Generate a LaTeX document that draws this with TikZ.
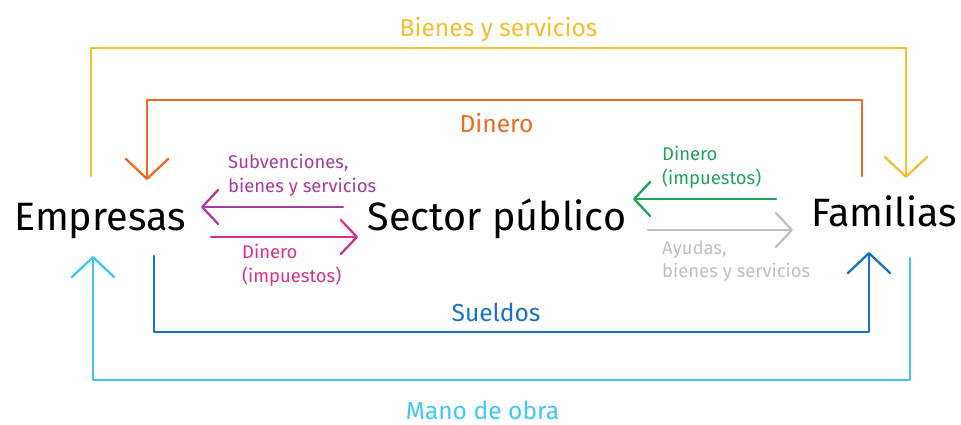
\documentclass[tikz,border=0pt]{standalone}
\usepackage{fontspec}
\setmainfont{Fira Sans}
\usepackage{tikz}
\usetikzlibrary{arrows.meta}
\definecolor{bienescol}{HTML}{F6BE2A}
\definecolor{dinerocol}{HTML}{EE6A1F}
\definecolor{sueldoscol}{HTML}{1971C2}
\definecolor{obracol}{HTML}{40C8F4}
\definecolor{subvcol}{HTML}{A93A9E}
\definecolor{impcol}{HTML}{DB2F8C}
\definecolor{impfamcol}{HTML}{1DA35A}
\definecolor{ayudacol}{HTML}{C0C0C0}
\tikzset{
  flow/.style={line width=1.3pt,line join=round,line cap=round,
    -{Straight Barb[length=4mm,width=8.5mm,round]}},
  swap/.style={line width=1.3pt,line cap=round,
    -{Straight Barb[length=3.2mm,width=6.8mm,round]}},
  bigtext/.style={font=\fontsize{22.5}{27}\selectfont,anchor=base},
  midtext/.style={font=\fontsize{14}{16}\selectfont,inner sep=1pt},
  smalltext/.style={font=\fontsize{10.5}{13.5}\selectfont,align=left,anchor=west}
}

\begin{document}
\begin{tikzpicture}[x=0.02cm,y=-0.02cm]
\useasboundingbox (0,0) rectangle (961,424);
\node[bigtext] (empresas) at (100,230) {Empresas};
\node[bigtext] (sector) at (497,230) {Sector público};
\node[bigtext] (familias) at (884,226) {Familias};
% ends of the outer loops
\coordinate (bienesE) at (91,176);
\coordinate (bienesF) at (906,178);
\coordinate (dineroF) at (862,176);
\coordinate (dineroE) at (147,180);
\coordinate (sueldosE) at (154,256);
\coordinate (sueldosF) at (869,252);
\coordinate (obraF) at (910,258);
\coordinate (obraE) at (93,256);
\draw[flow,bienescol] (bienesE) -- ++(0,-128) -| node[pos=0.25,above=0.6mm,midtext] (bienes) {Bienes y servicios} (bienesF);
\draw[flow,dinerocol] (dineroF) -- ++(0,-76) -| node[pos=0.25,below=2mm,xshift=-0.16cm,midtext] (dinero) {Dinero} (dineroE);
\draw[flow,sueldoscol] (sueldosE) -- ++(0,76) -| node[pos=0.25,above=1.4mm,xshift=-0.31cm,midtext] (sueldos) {Sueldos} (sueldosF);
\draw[flow,obracol] (obraF) -- ++(0,122) -| node[pos=0.25,below=3.6mm,xshift=-0.38cm,midtext] (obra) {Mano de obra} (obraE);
% flows with the public sector
\coordinate (subvS) at (343,207);
\coordinate (subvE) at (201,207);
\coordinate (impE) at (211,237);
\coordinate (impS) at (358,237);
\coordinate (impfamF) at (776,199);
\coordinate (impfamS) at (633,199);
\coordinate (ayudaS) at (648,230);
\coordinate (ayudaF) at (793,230);
\draw[swap,subvcol] (subvS) -- (subvE);
\draw[swap,impcol] (impE) -- (impS);
\draw[swap,impfamcol] (impfamF) -- (impfamS);
\draw[swap,ayudacol] (ayudaS) -- (ayudaF);
\node[smalltext,text=subvcol] (subv) at (222,175) {Subvenciones,\\bienes y servicios};
\node[smalltext,text=impcol] (imp) at (236,265) {Dinero\\(impuestos)};
\node[smalltext,text=impfamcol] (impfam) at (656,167) {Dinero\\(impuestos)};
\node[smalltext,text=ayudacol] (ayuda) at (656,261) {Ayudas,\\bienes y servicios};
\end{tikzpicture}
\end{document}
